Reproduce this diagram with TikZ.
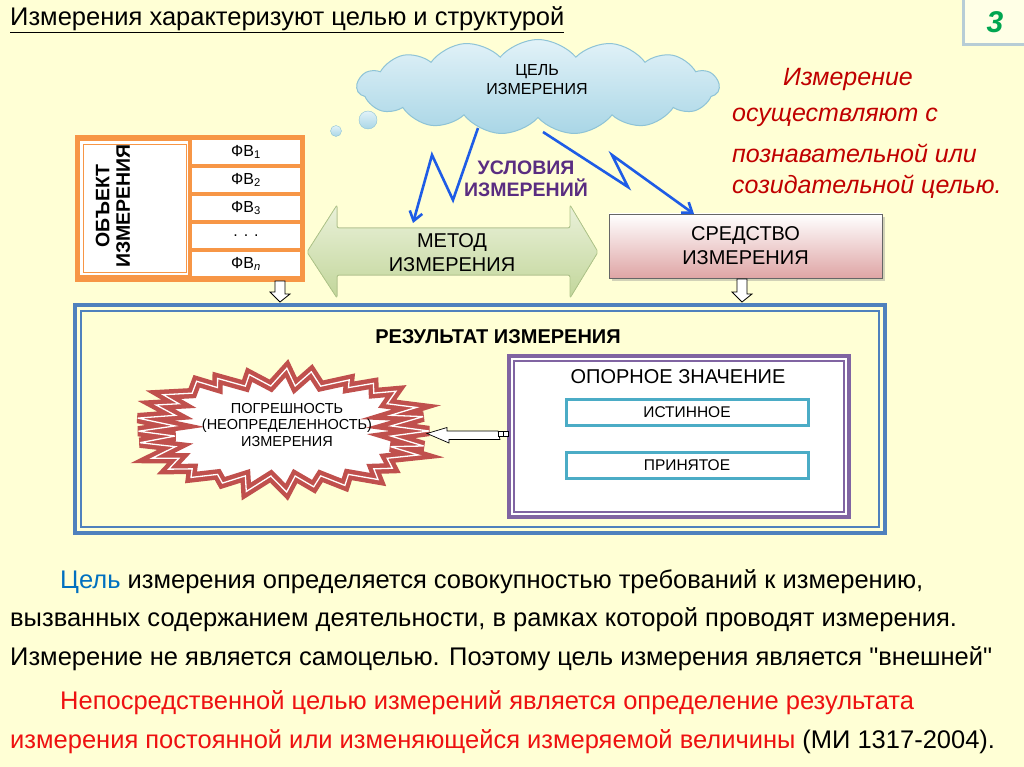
\documentclass[tikz,border=0pt]{standalone}
\usepackage{fontspec}
\setmainfont{Liberation Sans}
\newfontfamily\plainq{Liberation Sans}
\usetikzlibrary{shapes.symbols,shapes.arrows,shadows,arrows.meta,calc}
\definecolor{bg}{HTML}{FFFFD5}
\definecolor{objor}{HTML}{F79646}
\definecolor{frblue}{HTML}{4F81BD}
\definecolor{frpurp}{HTML}{8064A2}
\definecolor{frcyan}{HTML}{4BACC6}
\definecolor{starred}{HTML}{C0504D}
\definecolor{txtdred}{HTML}{C00000}
\definecolor{boltblue}{HTML}{1E5CE6}
\definecolor{condpurp}{HTML}{5A2D81}
\definecolor{numgreen}{HTML}{00A650}
\definecolor{txtblue}{HTML}{0070C0}
\definecolor{txtred}{HTML}{EE1111}
\definecolor{numframe}{HTML}{B7CDD6}
\definecolor{cloudtop}{HTML}{E2F2F8}
\definecolor{cloudbot}{HTML}{A9D6E6}
\definecolor{cloudline}{HTML}{8EC3D6}
\definecolor{grtop}{HTML}{EAF1DA}
\definecolor{grbot}{HTML}{C2D69A}
\definecolor{grline}{HTML}{B0C68A}
\definecolor{pinkbot}{HTML}{DFA5A5}
\newcommand{\fsz}[1]{\fontsize{#1}{#1}\selectfont}
\tikzset{
  cellbox/.style={fill=white, minimum width=108, minimum height=24, inner sep=0, font=\fsz{16}},
  boltline/.style={draw=boltblue, line width=2.6, line join=miter, -{Straight Barb[length=9,width=13,line width=2.6]}},
  hollowarrow/.style={draw=black, fill=white, line width=0.8},
  bodytext/.style={anchor=west, inner sep=0, font=\fsz{25.5}},
  righttext/.style={anchor=west, inner sep=0, font=\fsz{25}\itshape, text=txtdred},
  bubble/.style={circle, draw=cloudline, top color=cloudtop, bottom color=cloudbot, inner sep=0},
}
\begin{document}
\begin{tikzpicture}[x=1pt,y=-1pt]
\useasboundingbox (0,0) rectangle (1024,767);
\fill[bg] (0,0) rectangle (1024,767);

% title
\node[anchor=west, inner sep=0, font=\fsz{25.5}] (title) at (10,20) {\underline{Измерения характеризуют целью и структурой}};
% slide number
\draw[numframe, line width=3, fill=bg!60!white] (963,-5) rectangle (1030,45);
\node[font=\fsz{30}\bfseries\itshape, text=numgreen] (num) at (995,22) {3};

% cloud
\node[cloud, cloud puffs=15, cloud puff arc=100, aspect=3.7, minimum width=362, minimum height=95, inner sep=0,
      draw=cloudline, line width=1, top color=cloudtop, bottom color=cloudbot] (cloud) at (538,87) {};
\node[align=center, font=\fsz{16}, inner sep=0] (goal) at (537,80) {ЦЕЛЬ\\[3pt]ИЗМЕРЕНИЯ};
\node[bubble, minimum size=18] (bub1) at (368,120) {};
\node[bubble, minimum size=11] (bub2) at (336,131) {};

% object of measurement
\node[fill=objor, minimum width=230, minimum height=147, inner sep=0] (obj) at (190,208.5) {};
\node[fill=white, minimum width=108, minimum height=134, inner sep=0] (objl) at (134,208) {};
\draw[objor, line width=0.8] (83,144) rectangle (186,272);
\node[rotate=90, align=center, font=\fsz{19.5}\bfseries, inner sep=0] (objt) at (113,206) {ОБЪЕКТ\\[1pt]ИЗМЕРЕНИЯ};
\node[cellbox] (fv1) at (246,152) {ФВ\textsubscript{1}};
\node[cellbox] (fv2) at (246,180) {ФВ\textsubscript{2}};
\node[cellbox] (fv3) at (246,208) {ФВ\textsubscript{3}};
\node[cellbox] (fvd) at (246,236) {. . .};
\node[cellbox] (fvn) at (246,264) {ФВ\textsubscript{\itshape n}};

% method (double arrow)
\filldraw[draw=grline, line width=0.8, top color=grtop, bottom color=grbot, rounded corners=2]
  (307,252) -- (337,205) -- (337,228) -- (570,228) -- (570,205) -- (598,252) -- (570,298) -- (570,275) -- (337,275) -- (337,298) -- cycle;
\node[align=center, font=\fsz{20}, inner sep=0] (method) at (452,253) {МЕТОД\\[4pt]ИЗМЕРЕНИЯ};

% means of measurement
\node[draw=black!60, line width=0.8, top color=white, bottom color=pinkbot, minimum width=273, minimum height=64,
      inner sep=0, drop shadow={shadow xshift=3pt, shadow yshift=-3pt, opacity=0.35}, align=center, font=\fsz{20}] (means) at (745.5,246) {СРЕДСТВО\\[4pt]ИЗМЕРЕНИЯ};

% conditions
\node[align=center, font=\fsz{19.5}\bfseries, text=condpurp, inner sep=0] (cond) at (526,179) {УСЛОВИЯ\\[2pt]ИЗМЕРЕНИЙ};

% lightning bolts
\coordinate (b1s) at (478,128);
\coordinate (b1e) at (413,223);
\coordinate (b2s) at (543,132);
\coordinate (b2e) at (694,214);
\draw[boltline] (b1s) -- (453,200) -- (432,155) -- (b1e);
\draw[boltline] (b2s) -- (628,187) -- (612,155) -- (b2e);

% right red italic text
\node[righttext] (r1) at (783,79) {Измерение};
\node[righttext] (r2) at (732,117) {осуществляют с};
\node[righttext] (r3) at (732,153) {познавательной или};
\node[righttext] (r4) at (732,187) {созидательной целью.};

% result frame
\node[draw=frblue, line width=4, minimum width=810, minimum height=228, inner sep=0] (result) at (480,419) {};
\draw[frblue, line width=1.2] (81,311) rectangle (879,527);
\node[font=\fsz{20}\bfseries, inner sep=0] (restitle) at (498,337) {РЕЗУЛЬТАТ ИЗМЕРЕНИЯ};

% hollow down arrows
\coordinate (d1) at (280,281);
\coordinate (d2) at (742,279);
\draw[hollowarrow] (d1) ++(-5,0) -- ++(10,0) -- ++(0,13) -- ++(5,0) -- ($(d1 |- result.north)+(0,-1)$) -- ++(-10,-10) -- ++(5,0) -- cycle;
\draw[hollowarrow] (d2) ++(-5,0) -- ++(10,0) -- ++(0,15) -- ++(5,0) -- ($(d2 |- result.north)+(0,-1)$) -- ++(-10,-10) -- ++(5,0) -- cycle;

% reference value frame
\node[draw=frpurp, line width=4, fill=white, minimum width=340, minimum height=161, inner sep=0] (ref) at (679,436.5) {};
\draw[frpurp, line width=1.2] (514,361) rectangle (844,512);
\node[font=\fsz{20}, inner sep=0] (reft) at (678,377) {ОПОРНОЕ ЗНАЧЕНИЕ};
\node[draw=frcyan, line width=3, fill=white, minimum width=242, minimum height=26, inner sep=0, font=\fsz{15.5}] (true) at (687,412) {ИСТИННОЕ};
\node[draw=frcyan, line width=3, fill=white, minimum width=242, minimum height=26, inner sep=0, font=\fsz{15.5}] (acc) at (687,465) {ПРИНЯТОЕ};

% starburst (error): 28 spikes, tips on an ellipse, valleys on a rounded box
\foreach \i in {0,2,...,54} {
  \pgfmathsetmacro{\sbang}{6.4285714*\i}
  \coordinate (sb\i) at ({283+(146+5*sin(97*\i))*cos(\sbang+1.5*sin(71*\i))}, {431+(60+3*sin(53*\i))*sin(\sbang+1.5*sin(71*\i))});
}
\foreach \i in {1,3,...,55} {
  \pgfmathsetmacro{\sbang}{6.4285714*\i}
  \pgfmathsetmacro{\sbc}{cos(\sbang)}
  \pgfmathsetmacro{\sbs}{sin(\sbang)}
  \pgfmathsetmacro{\sbk}{sqrt(sqrt(\sbc*\sbc*\sbc*\sbc+\sbs*\sbs*\sbs*\sbs))}
  \coordinate (sb\i) at ({283+108*\sbc/\sbk}, {431+45*\sbs/\sbk});
}
\draw[draw=starred, double=white, double distance=1.3, line width=4.5, fill=white, line join=miter, miter limit=6]
  (sb0) \foreach \i in {1,...,55} { -- (sb\i) } -- cycle;
\node[align=center, font=\fsz{14.5}, inner sep=0] (err) at (287,425) {ПОГРЕШНОСТЬ\\[2pt](НЕОПРЕДЕЛЕННОСТЬ)\\[2pt]ИЗМЕРЕНИЯ};

% arrow from reference value to error
\coordinate (ha) at (ref.west |- 0,433.5);
\draw[hollowarrow, line width=0.7] ($(ha)+(-9,-2.5)$) -- ++(-51,0) -- ++(0,-3.5) -- (427,433.5) -- ++(22,9.5) -- ++(0,-3.5) -- ++(51,0) -- cycle;
\draw[hollowarrow, line width=0.7] ($(ha)+(-9,-2.5)$) rectangle ++(5,5);
\draw[hollowarrow, line width=0.7] ($(ha)+(-4,-2.5)$) rectangle ++(5,5);

% bottom text
\node[bodytext] (t1) at (60,582) {\textcolor{txtblue}{Цель} измерения определяется совокупностью требований к измерению,};
\node[bodytext] (t2) at (10,620) {вызванных содержанием деятельности, в рамках которой проводят измерения.};
\node[bodytext] (t3) at (10,659) {Измерение не является самоцелью. Поэтому цель измерения является {\plainq"}внешней{\plainq"}};
\node[bodytext, text=txtred] (t4) at (60,703) {Непосредственной целью измерений является определение результата};
\node[bodytext, text=txtred] (t5) at (10,742) {измерения постоянной или изменяющейся измеряемой величины \textcolor{black}{(МИ 1317-2004).}};
\end{tikzpicture}
\end{document}
